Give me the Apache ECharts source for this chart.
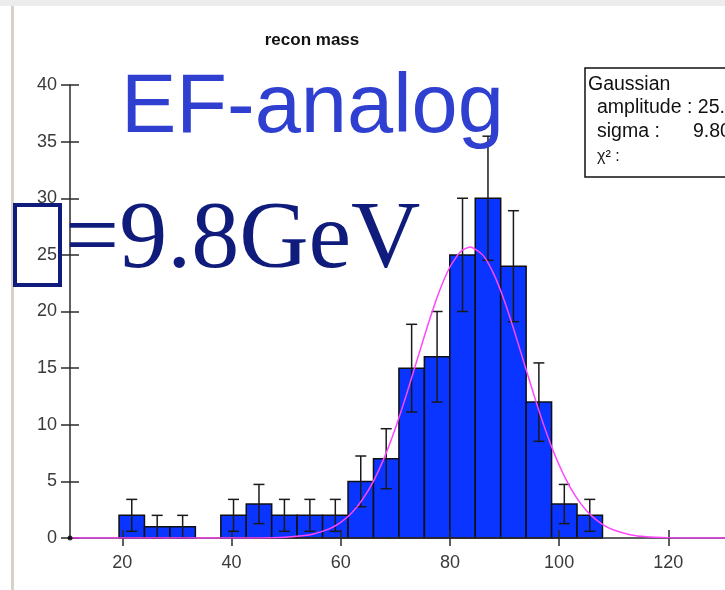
<!DOCTYPE html>
<html><head><meta charset="utf-8">
<script src="https://cdn.jsdelivr.net/npm/echarts@6/dist/echarts.min.js"></script>
<style>html,body{margin:0;padding:0;background:#fff}#c{width:725px;height:590px}</style>
</head><body><div id="c"></div>
<script>
// ---- data ----
const binEdges = [19.40, 24.06, 28.72, 33.38, 38.04, 42.70, 47.36, 52.02, 56.68, 61.34, 66.00, 70.66, 75.32, 79.98, 84.64, 89.30, 93.96, 98.62, 103.28, 107.94];
const counts = [2, 1, 1, 0, 2, 3, 2, 2, 2, 5, 7, 15, 16, 25, 30, 24, 12, 3, 2];
const errors = [1.41, 1, 1, 0, 1.41, 1.73, 1.41, 1.41, 1.41, 2.24, 2.65, 3.87, 4, 5, 5.48, 4.9, 3.46, 1.73, 1.41];
const fitX = [10.42, 40, 45, 50, 53, 55, 58, 60, 62, 64, 66, 68, 70, 72, 74, 76, 78, 80, 82, 83.7, 86, 88, 90, 92, 94, 96, 98, 100, 102, 104, 106, 108, 110, 113, 116, 120, 125, 130.38];
const fitY = [0, 0, 0.01, 0.07, 0.19, 0.35, 0.83, 1.38, 2.21, 3.41, 5.03, 7.12, 9.67, 12.6, 15.75, 18.87, 21.7, 23.93, 25.32, 25.7, 25.0, 23.34, 20.9, 17.95, 14.79, 11.69, 8.86, 6.45, 4.50, 3.01, 1.93, 1.19, 0.70, 0.29, 0.11, 0.03, 0, 0];
const xTickValues = [20, 40, 60, 80, 100, 120];
const xRange = [10.42, 130.38];
const yRange = [0, 40];
const yStep = 5;
const titleText = 'recon mass';
const fitLabels = ['Gaussian', 'amplitude : 25.', 'sigma :', '9.80', 'χ² :'];

const barData = counts.map((c, i) => [binEdges[i], binEdges[i + 1], c, errors[i]]).filter(d => d[2] > 0);

const chart = echarts.init(document.getElementById('c'), null, {renderer: 'canvas'});
const axisCol = '#2b2b2b';
const sans = 'Liberation Sans, Arial, sans-serif';
const labelFont = {fontSize: 18, color: '#3a3a3a', fontFamily: sans};

chart.setOption({
  backgroundColor: '#ffffff',
  animation: false,
  grid: {left: 70, right: 0, top: 85, bottom: 52, containLabel: false},
  xAxis: [
    {type: 'value', min: xRange[0], max: xRange[1], position: 'bottom', z: 3,
     axisLine: {show: true, onZero: false, lineStyle: {color: axisCol, width: 1.5}},
     axisTick: {show: true, inside: false, length: 8, customValues: xTickValues, lineStyle: {color: axisCol, width: 1.5}},
     axisLabel: Object.assign({customValues: xTickValues, margin: 16}, labelFont),
     splitLine: {show: false}},
    {type: 'value', min: xRange[0], max: xRange[1], position: 'bottom', z: 3,
     axisLine: {show: false, onZero: false},
     axisTick: {show: true, inside: true, length: 8, customValues: xTickValues, lineStyle: {color: axisCol, width: 1.5}},
     axisLabel: {show: false}, splitLine: {show: false}}
  ],
  yAxis: [
    {type: 'value', min: yRange[0], max: yRange[1], interval: yStep, position: 'left', z: 3,
     axisLine: {show: true, onZero: false, lineStyle: {color: axisCol, width: 1.5}},
     axisTick: {show: true, inside: false, length: 9, lineStyle: {color: axisCol, width: 1.5}},
     axisLabel: Object.assign({margin: 13}, labelFont),
     splitLine: {show: false}},
    {type: 'value', min: yRange[0], max: yRange[1], interval: yStep, position: 'left', z: 3,
     axisLine: {show: false, onZero: false},
     axisTick: {show: true, inside: true, length: 9, lineStyle: {color: axisCol, width: 1.5}},
     axisLabel: {show: false}, splitLine: {show: false}}
  ],
  series: [
    {type: 'custom', name: 'hist', xAxisIndex: 0, yAxisIndex: 0, z: 1,
     data: barData, encode: {x: [0, 1], y: 2},
     renderItem: function (params, api) {
       const p0 = api.coord([api.value(0), api.value(2)]);
       const p1 = api.coord([api.value(1), 0]);
       return {type: 'rect', shape: {x: p0[0], y: p0[1], width: p1[0] - p0[0], height: p1[1] - p0[1]},
               style: {fill: '#0a34ff', stroke: '#101010', lineWidth: 1.5}};
     }},
    {type: 'custom', name: 'err', xAxisIndex: 0, yAxisIndex: 0, z: 4,
     data: barData, encode: {x: [0, 1], y: 2},
     renderItem: function (params, api) {
       const xc = (api.value(0) + api.value(1)) / 2;
       const v = api.value(2), e = api.value(3);
       const top = api.coord([xc, v + e]);
       const bot = api.coord([xc, Math.max(0, v - e)]);
       const hw = 5.5;
       const st = {stroke: '#1a1a1a', lineWidth: 1.5};
       return {type: 'group', children: [
         {type: 'line', shape: {x1: top[0], y1: top[1], x2: bot[0], y2: bot[1]}, style: st},
         {type: 'line', shape: {x1: top[0] - hw, y1: top[1], x2: top[0] + hw, y2: top[1]}, style: st},
         {type: 'line', shape: {x1: bot[0] - hw, y1: bot[1], x2: bot[0] + hw, y2: bot[1]}, style: st}
       ]};
     }},
    {type: 'line', name: 'fit', xAxisIndex: 0, yAxisIndex: 0, z: 5,
     data: fitX.map((x, i) => [x, fitY[i]]), showSymbol: false, smooth: 0.2,
     lineStyle: {color: '#ff45ff', width: 1.5}},
    {type: 'scatter', xAxisIndex: 0, yAxisIndex: 0, z: 6, data: [[xRange[0], 0]],
     symbolSize: 5, itemStyle: {color: '#000'}}
  ],
  graphic: [
    {type: 'rect', shape: {x: 0, y: 0, width: 725, height: 6}, style: {fill: '#ececec'}, z: 0},
    {type: 'rect', shape: {x: 11, y: 6, width: 3, height: 584}, style: {fill: '#d6d2ca'}, z: 0},
    {type: 'text', x: 312, y: 40, z: 10,
     style: {text: titleText, fontSize: 17, fontWeight: 'bold', fontFamily: sans, fill: '#111', textAlign: 'center', textVerticalAlign: 'middle'}},
    {type: 'text', x: 121, y: 109, z: 10,
     style: {text: 'EF-analog', fontSize: 83, fontFamily: sans, fill: '#2f3fd0', textAlign: 'left', textVerticalAlign: 'middle'}},
    {type: 'rect', shape: {x: 15, y: 205, width: 45, height: 80}, style: {fill: 'none', stroke: '#0f1c7c', lineWidth: 4}, z: 10},
    {type: 'text', x: 65, y: 242, z: 10,
     style: {text: '=9.8GeV', fontSize: 96, fontFamily: 'Liberation Serif, Times New Roman, serif', fill: '#0f1c7c', textAlign: 'left', textVerticalAlign: 'middle'}},
    {type: 'rect', shape: {x: 585, y: 68, width: 200, height: 109}, style: {fill: '#fff', stroke: '#111', lineWidth: 1.5}, z: 10},
    {type: 'text', x: 588, y: 85, z: 11, style: {text: fitLabels[0], fontSize: 19.5, fontFamily: sans, fill: '#111', textAlign: 'left', textVerticalAlign: 'middle'}},
    {type: 'text', x: 597, y: 108, z: 11, style: {text: fitLabels[1], fontSize: 19.5, fontFamily: sans, fill: '#111', textAlign: 'left', textVerticalAlign: 'middle'}},
    {type: 'text', x: 597, y: 132, z: 11, style: {text: fitLabels[2], fontSize: 19.5, fontFamily: sans, fill: '#111', textAlign: 'left', textVerticalAlign: 'middle'}},
    {type: 'text', x: 693, y: 132, z: 11, style: {text: fitLabels[3], fontSize: 19.5, fontFamily: sans, fill: '#111', textAlign: 'left', textVerticalAlign: 'middle'}},
    {type: 'text', x: 597, y: 157, z: 11, style: {text: fitLabels[4], fontSize: 16, fontFamily: sans, fill: '#111', textAlign: 'left', textVerticalAlign: 'middle'}}
  ]
});
</script>
</body></html>
